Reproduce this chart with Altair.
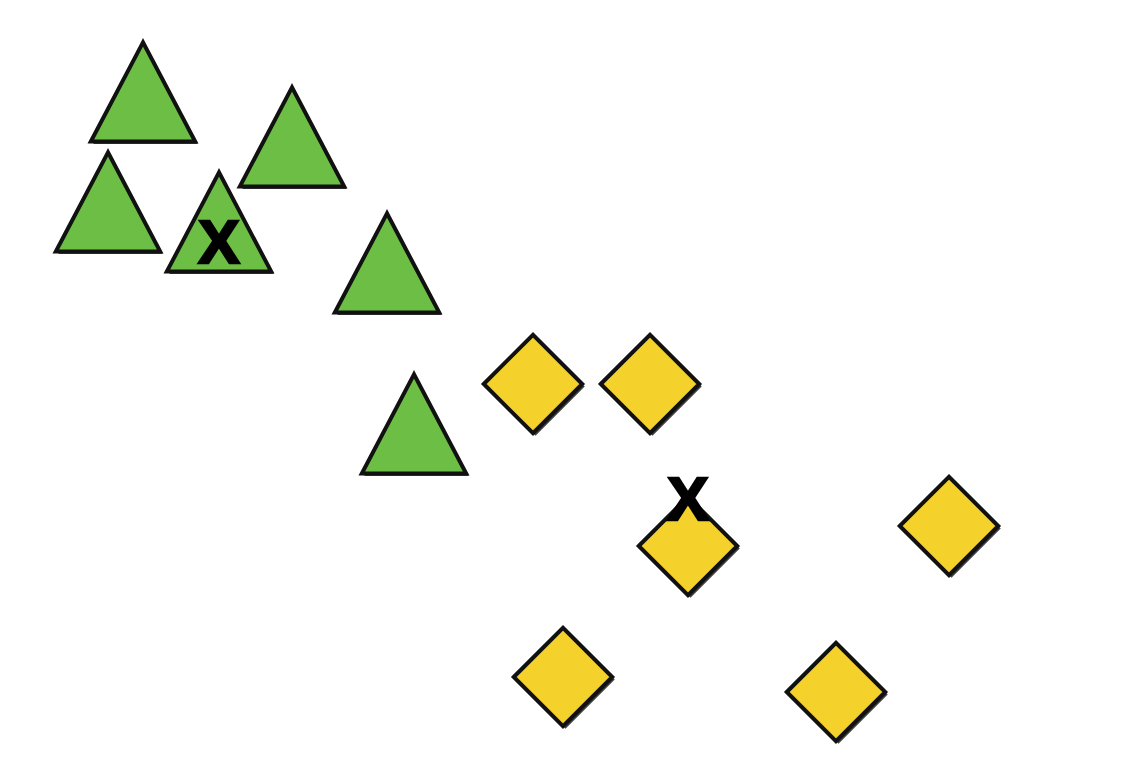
import pandas as pd
import altair as alt

# positions (page pixels)
tri_x = [143, 292, 108, 219, 387, 414]
tri_y = [92, 137, 202, 222, 263, 424]
dia_x = [533, 650, 688, 949, 563, 836]
dia_y = [384, 384, 546, 526, 677, 692]
mark_x = [219, 688]
mark_y = [263, 520]
mark_label = ["X", "X"]

df = pd.DataFrame({
    "x": tri_x + dia_x,
    "y": tri_y + dia_y,
    "kind": ["triangle"] * len(tri_x) + ["diamond"] * len(dia_x),
})
labels = pd.DataFrame({"x": mark_x, "y": mark_y, "label": mark_label})

xs = alt.Scale(domain=[8, 1116], nice=False, zero=False)
ys = alt.Scale(domain=[8, 760], nice=False, zero=False, reverse=True)
no_axis = None

tri_path = "M0,-0.95L-1,0.95L1,0.95Z"
shape_scale = alt.Scale(domain=["triangle", "diamond"], range=[tri_path, "diamond"])
size_scale = alt.Scale(domain=["triangle", "diamond"], range=[10900, 9700])

base = alt.Chart(df).encode(
    x=alt.X("x:Q", scale=xs, axis=no_axis),
    y=alt.Y("y:Q", scale=ys, axis=no_axis),
    shape=alt.Shape("kind:N", scale=shape_scale, legend=None),
    size=alt.Size("kind:N", scale=size_scale, legend=None),
)

# rough dark edge offset to bottom-right, like the hand-drawn outline
shadow = base.mark_point(filled=True, opacity=0.8, color="#111111", xOffset=2.5, yOffset=2.5)

shapes = base.mark_point(filled=True, opacity=1, stroke="#111111", strokeWidth=4).encode(
    fill=alt.Fill("kind:N", scale=alt.Scale(domain=["triangle", "diamond"],
                                            range=["#6DBE45", "#F5D22B"]), legend=None)
)

text = alt.Chart(labels).mark_text(
    font="Liberation Sans", fontWeight="bold", fontSize=62, color="black",
    stroke="black", strokeWidth=2.5, baseline="alphabetic", align="center"
).encode(
    x=alt.X("x:Q", scale=xs, axis=no_axis),
    y=alt.Y("y:Q", scale=ys, axis=no_axis),
    text="label:N",
)

chart = alt.layer(shadow, shapes, text).properties(
    width=1108, height=752, padding=0,
    autosize=alt.AutoSizeParams(type="none"),
).configure_view(strokeWidth=0)

chart.save("out.html", embed_options={"renderer": "svg", "actions": False})
